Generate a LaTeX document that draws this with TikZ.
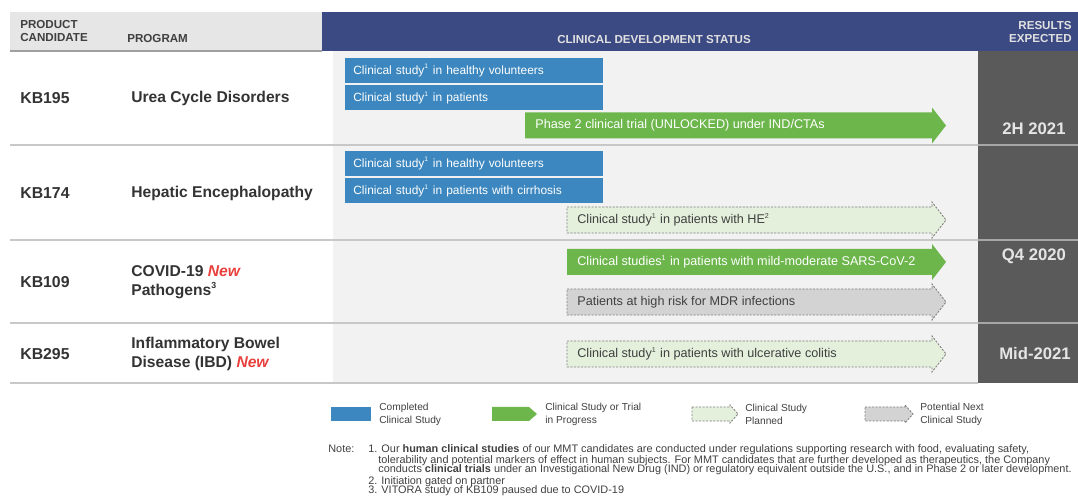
\documentclass[tikz,border=0pt]{standalone}
\usepackage{fontspec}
\setmainfont{Liberation Sans}
\usepackage{tikz}
\usetikzlibrary{positioning}
\definecolor{hdblue}{HTML}{3C4A84}
\definecolor{hdgrey}{HTML}{E6E6E6}
\definecolor{hdtxt}{HTML}{404040}
\definecolor{statusbg}{HTML}{F2F2F2}
\definecolor{resgrey}{HTML}{5A5A5A}
\definecolor{rowline}{HTML}{C8C8C8}
\definecolor{barblue}{HTML}{3C87BF}
\definecolor{bargreen}{HTML}{6CB64B}
\definecolor{planfill}{HTML}{E4F0DC}
\definecolor{nextfill}{HTML}{D3D3D3}
\definecolor{dashgrey}{HTML}{808080}
\definecolor{newred}{HTML}{E8403C}
\definecolor{bodytxt}{HTML}{333333}
\newcommand{\New}{\textcolor{newred}{\textit{New}}}
\newcommand{\fn}[1]{\textsuperscript{\scalebox{0.8}{#1}}}
\newcommand{\stagearrow}[7]{%
  \draw[#1] (#2,#4-#5) -- (#3-#7,#4-#5) -- (#3-#7,#4-#6) -- (#3,#4)
    -- (#3-#7,#4+#6) -- (#3-#7,#4+#5) -- (#2,#4+#5) -- cycle;}
\tikzset{
  hdtext/.style={font=\fontsize{6.6}{7.6}\selectfont\bfseries, text=hdtxt, inner sep=0pt, align=left},
  cand/.style={font=\fontsize{9}{10}\selectfont\bfseries, text=bodytxt, anchor=west, inner sep=0pt},
  prog/.style={font=\fontsize{8.9}{11}\selectfont\bfseries, text=bodytxt, anchor=west, inner sep=0pt, align=left},
  result/.style={font=\fontsize{9.5}{11}\selectfont\bfseries, text=white!90!black, inner sep=0pt},
  donebar/.style={fill=barblue, text=white, anchor=west, minimum height=0.5cm, inner xsep=0.16cm,
    text width=4.84cm, align=left, font=\fontsize{6.8}{7.5}\selectfont},
  progress/.style={fill=bargreen, draw=none},
  planned/.style={fill=planfill, draw=dashgrey, line width=0.5pt, dash pattern=on 1.2pt off 0.8pt},
  nextstep/.style={fill=nextfill, draw=dashgrey, line width=0.5pt, dash pattern=on 1.2pt off 0.8pt},
  bartext/.style={anchor=west, inner sep=0pt, text=white, font=\fontsize{7.2}{8}\selectfont},
  plantext/.style={anchor=west, inner sep=0pt, text=hdtxt, font=\fontsize{7.2}{8}\selectfont},
  legtext/.style={anchor=west, inner sep=0pt, text=hdtxt, align=left, font=\fontsize{5.8}{7.4}\selectfont},
  notetext/.style={anchor=base west, inner sep=0pt, text=hdtxt, font=\fontsize{6.2}{6.5}\selectfont}
}
\begin{document}
\begin{tikzpicture}[x=0.02cm, y=-0.02cm]
  \useasboundingbox (0,0) rectangle (1078,499);
  \fill[hdgrey] (10,12) rectangle (322,51);
  \fill[hdblue] (322,12) rectangle (1078,51);
  \fill[statusbg] (333,51) rectangle (978,383);
  \fill[resgrey] (978,51) rectangle (1078,383);
  \draw[rowline!80!black, line width=0.6pt] (10,51) -- (322,51);
  \foreach \y in {145,240,323} {
    \draw[rowline, line width=1pt] (10,\y) -- (978,\y);
    \draw[rowline!70!resgrey, line width=1pt] (978,\y) -- (1078,\y);
  }
  \draw[rowline, line width=1pt] (10,383) -- (978,383);

  \node[hdtext, anchor=west] (hdcand) at (20,31) {PRODUCT\\CANDIDATE};
  \node[hdtext, anchor=base west] (hdprog) at (127,43) {PROGRAM};
  \node[hdtext, anchor=base, text=white!88!black] (hdstatus) at (654,44) {CLINICAL DEVELOPMENT STATUS};
  \node[hdtext, anchor=east, align=right, text=white!88!black] (hdres) at (1072,32) {RESULTS\\EXPECTED};

  \node[cand] (kb195) at (20,98) {KB195};
  \node[cand] (kb174) at (20,193) {KB174};
  \node[cand] (kb109) at (20,282) {KB109};
  \node[cand] (kb295) at (20,354) {KB295};
  \node[prog] (ucd) at (131,98) {Urea Cycle Disorders};
  \node[prog] (he) at (131,193) {Hepatic Encephalopathy};
  \node[prog] (covid) at (131,282) {COVID-19 \New\\Pathogens\fn{3}};
  \node[prog] (ibd) at (131,354) {Inflammatory Bowel\\Disease (IBD) \New};

  \node[donebar] (kb195hv) at (345,70.5) {Clinical study\fn{1} in healthy volunteers};
  \node[donebar] (kb195pt) at (345,98) {Clinical study\fn{1} in patients};
  \node[donebar] (kb174hv) at (345,163.5) {Clinical study\fn{1} in healthy volunteers};
  \node[donebar] (kb174pt) at (345,191) {Clinical study\fn{1} in patients with cirrhosis};

  \stagearrow{progress}{525}{946}{125.5}{13}{18}{14}
  \node[bartext] (kb195ph2) at (535,125.5) {Phase 2 clinical trial (UNLOCKED) under IND/CTAs};
  \stagearrow{planned}{567}{946}{220}{13}{18}{14}
  \node[plantext] (kb174he) at (577,220) {Clinical study\fn{1} in patients with HE\fn{2}};
  \stagearrow{progress}{567}{946}{262}{13}{18}{14}
  \node[bartext] (kb109sars) at (577,262) {Clinical studies\fn{1} in patients with mild-moderate SARS-CoV-2};
  \stagearrow{nextstep}{567}{946}{302}{13}{18}{14}
  \node[plantext] (kb109mdr) at (577,302) {Patients at high risk for MDR infections};
  \stagearrow{planned}{567}{946}{354}{13}{18}{14}
  \node[plantext] (kb295uc) at (577,354) {Clinical study\fn{1} in patients with ulcerative colitis};

  \node[result] (res195) at (1034,129) {2H 2021};
  \node[result] (res109) at (1034,256) {Q4 2020};
  \node[result] (res295) at (1035,354) {Mid-2021};

  \node[fill=barblue, minimum width=0.8cm, minimum height=0.28cm, inner sep=0pt] (legdone) at (351,414) {};
  \node[legtext] (legdonetxt) at (379,414) {Completed\\Clinical Study};
  \stagearrow{progress}{492}{537}{414}{7}{7}{8}
  \node[legtext] (legprogtxt) at (545,414) {Clinical Study or Trial\\in Progress};
  \stagearrow{planned}{692}{738}{414}{7}{9}{8}
  \node[legtext] (legplantxt) at (745,414) {Clinical Study\\Planned};
  \stagearrow{nextstep}{865}{913}{414}{7}{9}{8}
  \node[legtext] (legnexttxt) at (920,414) {Potential Next\\Clinical Study};

  \node[notetext] (note) at (328,453) {Note:};
  \node[notetext] (note1) at (368,453) {1. Our \textbf{human clinical studies} of our MMT candidates are conducted under regulations supporting research with food, evaluating safety,};
  \node[notetext] (note1b) at (378,463) {tolerability and potential markers of effect in human subjects. For MMT candidates that are further developed as therapeutics, the Company};
  \node[notetext] (note1c) at (378,473) {conducts \textbf{clinical trials} under an Investigational New Drug (IND) or regulatory equivalent outside the U.S., and in Phase 2 or later development.};
  \node[notetext] (note2) at (368,484) {2. Initiation gated on partner};
  \node[notetext] (note3) at (368,494) {3. VITORA study of KB109 paused due to COVID-19};
\end{tikzpicture}
\end{document}
